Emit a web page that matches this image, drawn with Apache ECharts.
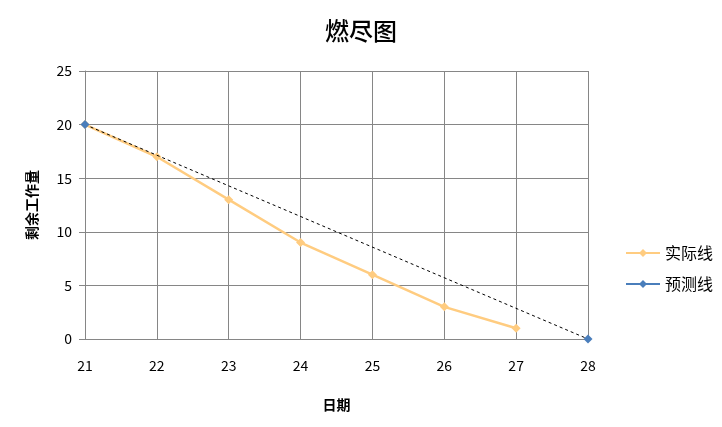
<!DOCTYPE html>
<html><head><meta charset="utf-8">
<script src="https://cdn.jsdelivr.net/npm/echarts@6/dist/echarts.min.js"></script>
<style>html,body{margin:0;padding:0;background:#fff}#c{width:722px;height:427px}</style>
</head><body><div id="c"></div>
<script>
const categories = ['21','22','23','24','25','26','27','28'];
const actual = [20, 17, 13, 9, 6, 3, 1, null];
const forecast = [20, null, null, null, null, null, null, 0];
const yTicks = {min: 0, max: 25, interval: 5};

const font = '"Noto Sans CJK SC", "Noto Sans", sans-serif';
const chart = echarts.init(document.getElementById('c'));
chart.setOption({
  animation: false,
  textStyle: {fontFamily: font},
  title: {text: '燃尽图', left: 'center', top: 14,
    textStyle: {fontFamily: font, fontSize: 24, fontWeight: 500, color: '#000'}},
  grid: {left: 85, right: 134, top: 71, bottom: 88, containLabel: false},
  legend: {
    orient: 'vertical', left: 620, top: 240, itemGap: 15,
    itemWidth: 34, itemHeight: 10,
    textStyle: {fontFamily: font, fontSize: 16, color: '#000'},
    data: [
      {name: '实际线'},
      {name: '预测线', itemStyle: {color: '#4A7EBB'}, lineStyle: {color: '#4A7EBB', type: 'solid', width: 2}}
    ]
  },
  xAxis: {
    type: 'category', data: categories, boundaryGap: false,
    name: '日期', nameLocation: 'middle', nameGap: 59,
    nameTextStyle: {fontFamily: font, fontSize: 14, fontWeight: 'bold', color: '#000'},
    axisLine: {lineStyle: {color: '#868686'}},
    axisTick: {show: false},
    axisLabel: {color: '#000', fontSize: 14, margin: 20, fontFamily: font},
    splitLine: {show: true, lineStyle: {color: '#868686'}}
  },
  yAxis: {
    type: 'value', min: yTicks.min, max: yTicks.max, interval: yTicks.interval,
    name: '剩余工作量', nameLocation: 'middle', nameGap: 46, nameRotate: 90,
    nameTextStyle: {fontFamily: font, fontSize: 14, fontWeight: 'bold', color: '#000'},
    axisLine: {show: true, lineStyle: {color: '#868686'}},
    axisTick: {show: true, length: 6, lineStyle: {color: '#868686'}},
    axisLabel: {color: '#000', fontSize: 14, margin: 13, fontFamily: font},
    splitLine: {show: true, lineStyle: {color: '#868686'}}
  },
  series: [
    {name: '实际线', type: 'line', data: actual, symbol: 'diamond', symbolSize: 9,
     itemStyle: {color: '#FFCC80'}, lineStyle: {color: '#FFCC80', width: 2.5}, z: 2},
    {name: '预测线', type: 'line', data: forecast, connectNulls: true, symbol: 'diamond', symbolSize: 9,
     itemStyle: {color: '#4A7EBB'}, lineStyle: {color: '#000', width: 1, type: [3, 3]}, z: 3}
  ]
});
</script></body></html>
